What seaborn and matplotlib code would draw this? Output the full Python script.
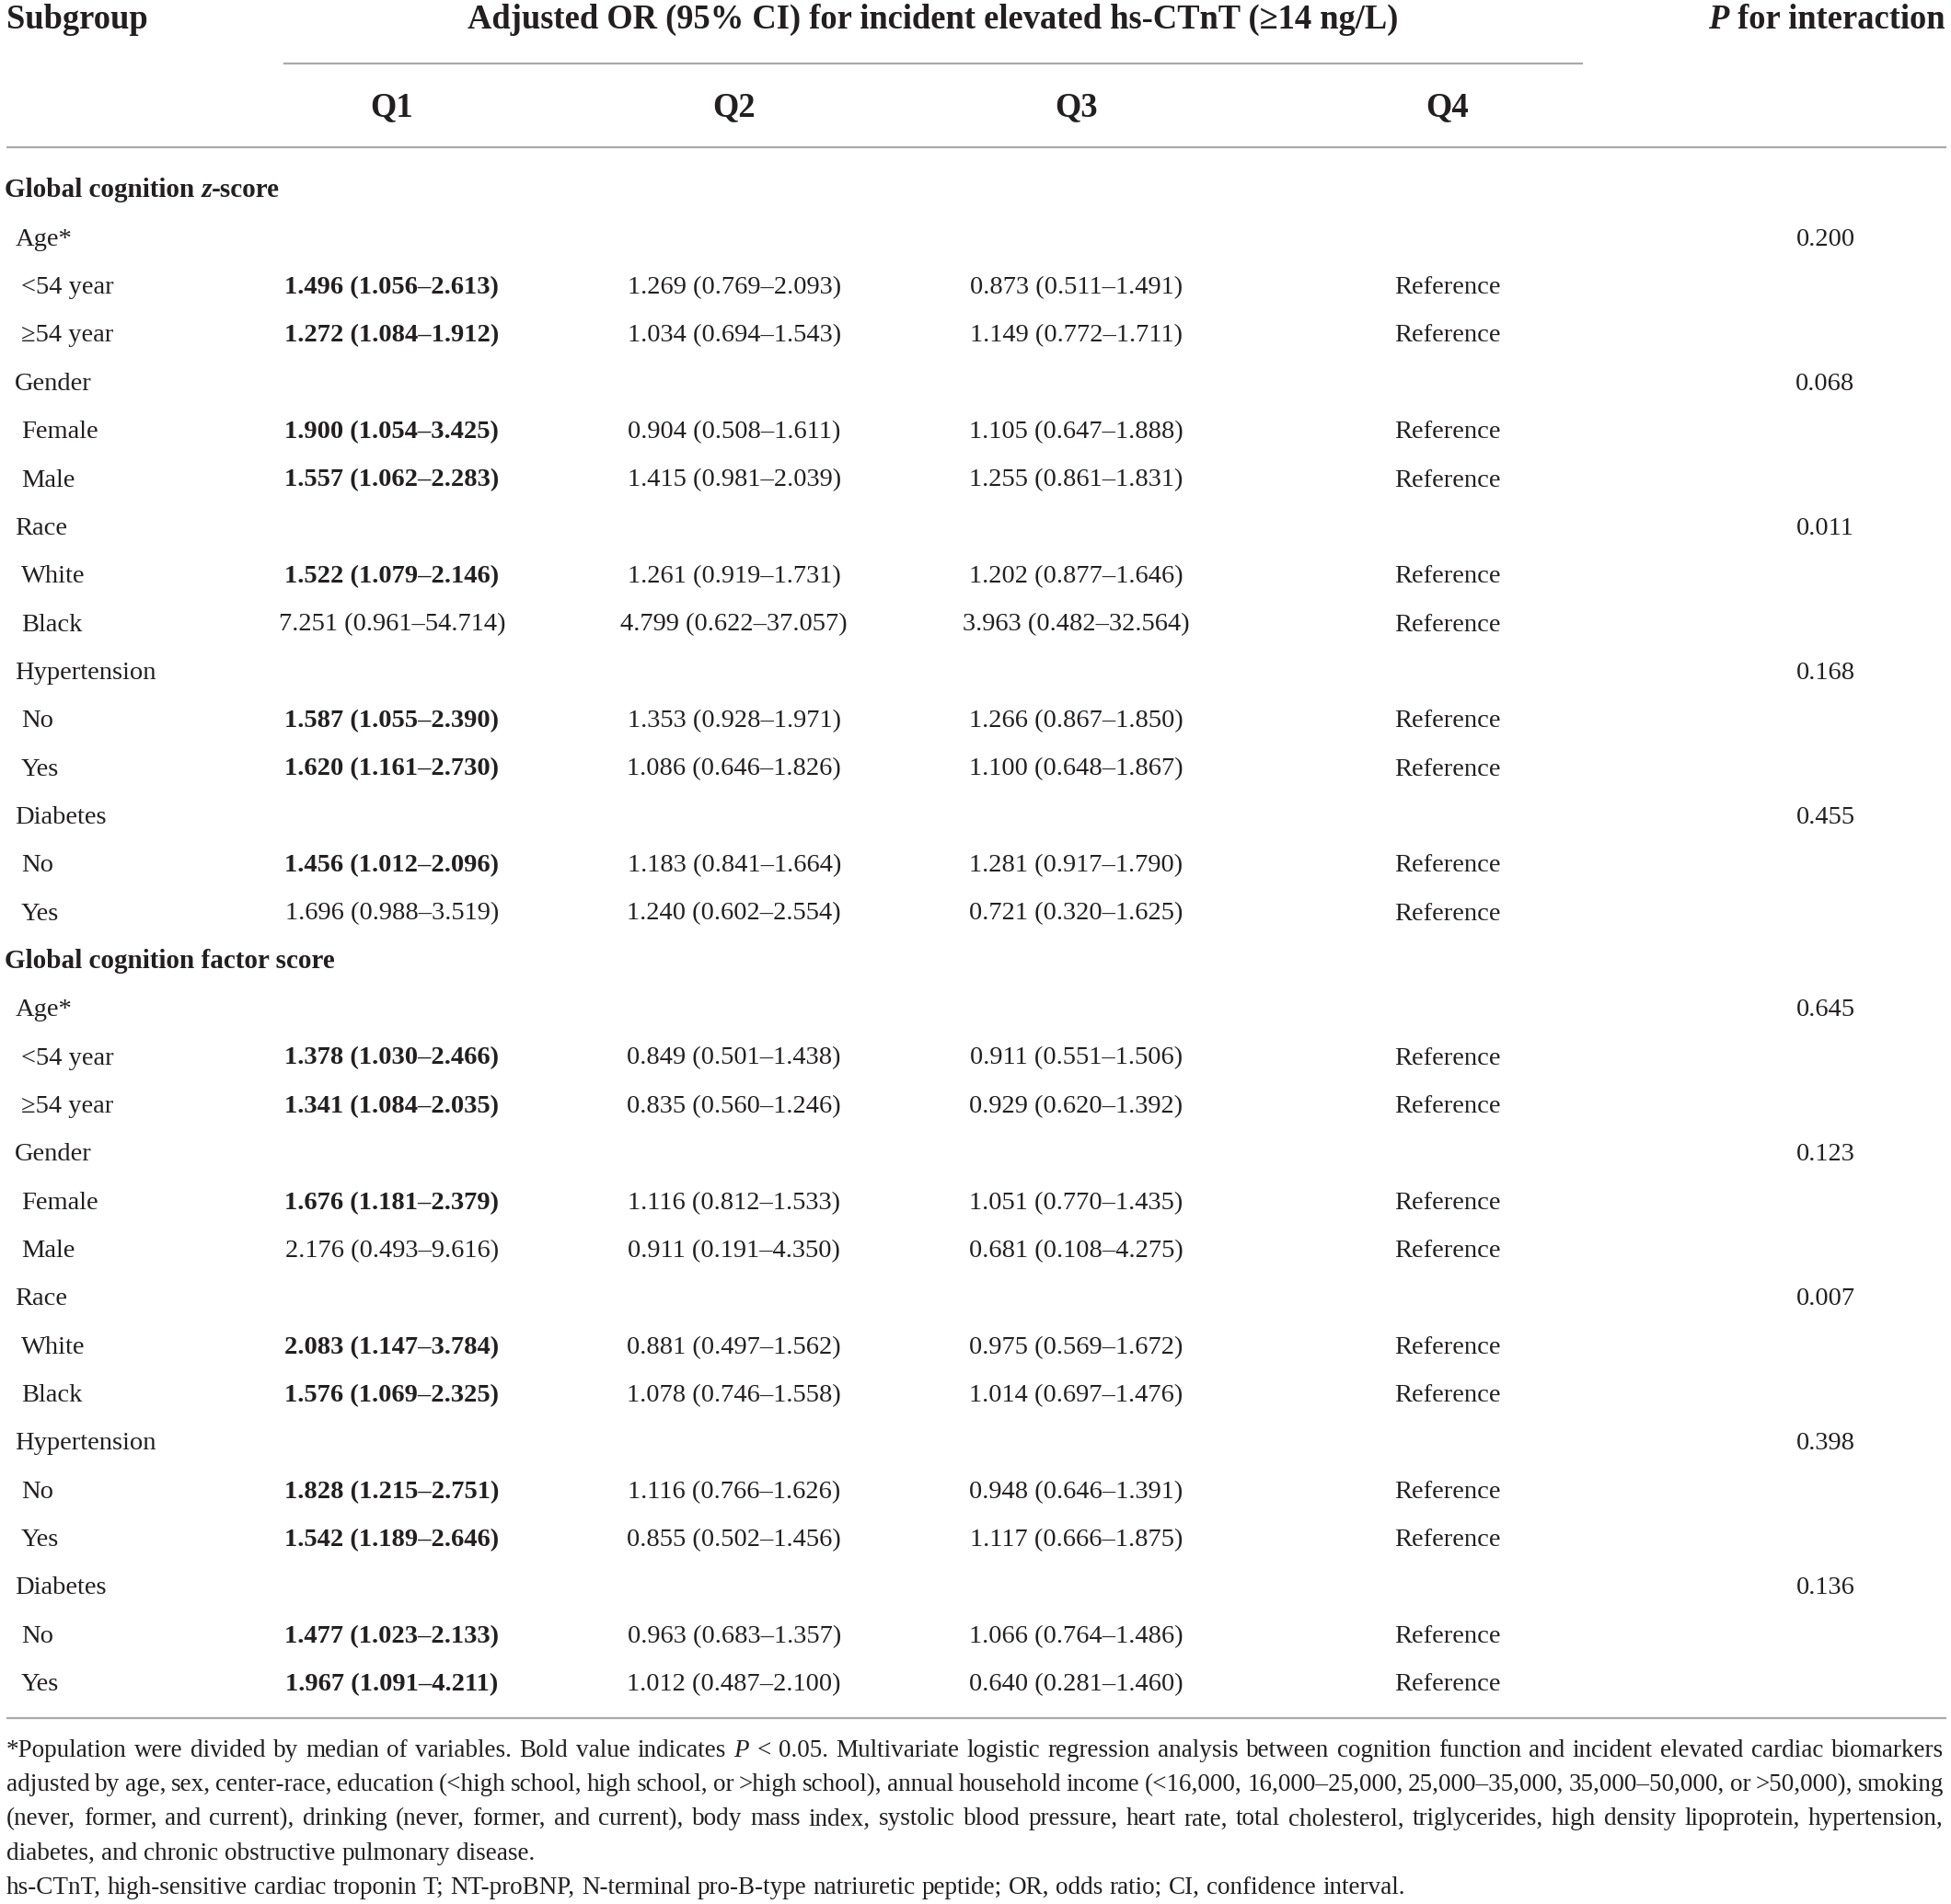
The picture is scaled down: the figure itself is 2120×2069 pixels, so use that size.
import matplotlib
matplotlib.use("Agg")
import matplotlib.pyplot as plt
import seaborn as sns

# ---- table contents ----
header_subgroup = "Subgroup"
header_main = "Adjusted OR (95% CI) for incident elevated hs-CTnT (≥14 ng/L)"
header_p = " for interaction"
quartiles = ["Q1", "Q2", "Q3", "Q4"]

section_titles = ["Global cognition z-score", "Global cognition factor score"]
groups = ["Age*", "Gender", "Race", "Hypertension", "Diabetes"]
levels = [["<54 year", "≥54 year"], ["Female", "Male"], ["White", "Black"],
          ["No", "Yes"], ["No", "Yes"]]

# Global cognition z-score
z_q1 = ["1.496 (1.056–2.613)", "1.272 (1.084–1.912)", "1.900 (1.054–3.425)", "1.557 (1.062–2.283)",
        "1.522 (1.079–2.146)", "7.251 (0.961–54.714)", "1.587 (1.055–2.390)", "1.620 (1.161–2.730)",
        "1.456 (1.012–2.096)", "1.696 (0.988–3.519)"]
z_q2 = ["1.269 (0.769–2.093)", "1.034 (0.694–1.543)", "0.904 (0.508–1.611)", "1.415 (0.981–2.039)",
        "1.261 (0.919–1.731)", "4.799 (0.622–37.057)", "1.353 (0.928–1.971)", "1.086 (0.646–1.826)",
        "1.183 (0.841–1.664)", "1.240 (0.602–2.554)"]
z_q3 = ["0.873 (0.511–1.491)", "1.149 (0.772–1.711)", "1.105 (0.647–1.888)", "1.255 (0.861–1.831)",
        "1.202 (0.877–1.646)", "3.963 (0.482–32.564)", "1.266 (0.867–1.850)", "1.100 (0.648–1.867)",
        "1.281 (0.917–1.790)", "0.721 (0.320–1.625)"]
z_q1_bold = [True, True, True, True, True, False, True, True, True, False]
z_p = ["0.200", "0.068", "0.011", "0.168", "0.455"]

# Global cognition factor score
f_q1 = ["1.378 (1.030–2.466)", "1.341 (1.084–2.035)", "1.676 (1.181–2.379)", "2.176 (0.493–9.616)",
        "2.083 (1.147–3.784)", "1.576 (1.069–2.325)", "1.828 (1.215–2.751)", "1.542 (1.189–2.646)",
        "1.477 (1.023–2.133)", "1.967 (1.091–4.211)"]
f_q2 = ["0.849 (0.501–1.438)", "0.835 (0.560–1.246)", "1.116 (0.812–1.533)", "0.911 (0.191–4.350)",
        "0.881 (0.497–1.562)", "1.078 (0.746–1.558)", "1.116 (0.766–1.626)", "0.855 (0.502–1.456)",
        "0.963 (0.683–1.357)", "1.012 (0.487–2.100)"]
f_q3 = ["0.911 (0.551–1.506)", "0.929 (0.620–1.392)", "1.051 (0.770–1.435)", "0.681 (0.108–4.275)",
        "0.975 (0.569–1.672)", "1.014 (0.697–1.476)", "0.948 (0.646–1.391)", "1.117 (0.666–1.875)",
        "1.066 (0.764–1.486)", "0.640 (0.281–1.460)"]
f_q1_bold = [True, True, True, False, True, True, True, True, True, True]
f_p = ["0.645", "0.123", "0.007", "0.398", "0.136"]

q4_value = "Reference"

footnote = [
    "*Population were divided by median of variables. Bold value indicates P < 0.05. Multivariate logistic "
    "regression analysis between cognition function and incident elevated cardiac biomarkers",
    "adjusted by age, sex, center-race, education (<high school, high school, or >high school), annual "
    "household income (<16,000, 16,000–25,000, 25,000–35,000, 35,000–50,000, or >50,000), smoking",
    "(never, former, and current), drinking (never, former, and current), body mass index, systolic blood "
    "pressure, heart rate, total cholesterol, triglycerides, high density lipoprotein, hypertension,",
    "diabetes, and chronic obstructive pulmonary disease.",
    "hs-CTnT, high-sensitive cardiac troponin T; NT-proBNP, N-terminal pro-B-type natriuretic peptide; "
    "OR, odds ratio; CI, confidence interval.",
]
footnote_justified = [True, True, True, False, False]

sections = [(z_q1, z_q2, z_q3, z_q1_bold, z_p), (f_q1, f_q2, f_q3, f_q1_bold, f_p)]

# ---- style ----
sns.set_theme(style="white")
plt.rcParams['font.family'] = ['Liberation Serif', 'DejaVu Serif']
INK = "#231f20"
RULE = "#a7a9ac"
BODY = 20.5
HEAD = 26.3
NOTE = 19.5

W, H = 2120, 2069
XMAX, YMAX = 1568, 1529  # layout units
fig = plt.figure(figsize=(W / 100, H / 100), dpi=100)
ax = fig.add_axes([0, 0, 1, 1])
ax.set_xlim(0, XMAX)
ax.set_ylim(YMAX, 0)
ax.axis('off')
sns.despine(ax=ax, left=True, bottom=True)
renderer = fig.canvas.get_renderer()
px2x = XMAX / W

col_x = [315, 590, 865, 1163]
p_x = 1467
row0 = 158.5
row_step = 38.68


def width_of(t):
    return t.get_window_extent(renderer).width * px2x


def put_runs(x, y, parts, size, ha='left'):
    """parts: list of (text, weight, style); drawn one after another"""
    objs = [ax.text(0, y, s, fontsize=size, fontweight=w, fontstyle=st,
                    ha='left', va='baseline', color=INK) for s, w, st in parts]
    widths = [width_of(o) for o in objs]
    total = sum(widths)
    x0 = {'left': x, 'right': x - total, 'center': x - total / 2}[ha]
    for o, w in zip(objs, widths):
        o.set_x(x0)
        x0 += w


def put_justified(y, line, x0, x1, size, full):
    words = line.split(' ')
    objs = [ax.text(0, y, w, fontsize=size, fontstyle='italic' if w == 'P' else 'normal',
                    ha='left', va='baseline', color=INK) for w in words]
    widths = [width_of(o) for o in objs]
    if full:
        gap = (x1 - x0 - sum(widths)) / (len(words) - 1)
    else:
        gap = 0.26 * size * (100 / 72) * px2x
    x = x0
    for o, w in zip(objs, widths):
        o.set_x(x)
        x += w + gap


# ---- header ----
ax.text(5, 23, header_subgroup, fontsize=HEAD, fontweight='bold', ha='left', va='baseline', color=INK)
ax.text(750, 23, header_main, fontsize=HEAD, fontweight='bold', ha='center', va='baseline', color=INK)
put_runs(1563, 23, [("P", 'bold', 'italic'), (header_p, 'bold', 'normal')], HEAD, ha='right')
for q, x in zip(quartiles, col_x):
    ax.text(x, 93, q, fontsize=HEAD, fontweight='bold', ha='center', va='baseline', color=INK)

ax.hlines(51, 228, 1272, color=RULE, lw=1.6)
ax.hlines(118, 5, 1564, color=RULE, lw=1.6)
ax.hlines(1380, 5, 1564, color=RULE, lw=1.6)

# ---- body ----
k = 0
for s, (q1, q2, q3, q1_bold, pvals) in enumerate(sections):
    y = row0 + row_step * k
    title = section_titles[s]
    if " z-" in title:
        a, b = title.split(" z-")
        put_runs(4, y, [(a, 'bold', 'normal'), (" z", 'bold', 'italic'), ("-" + b, 'bold', 'normal')], 21)
    else:
        ax.text(4, y, title, fontsize=21, fontweight='bold', ha='left', va='baseline', color=INK)
    k += 1
    i = 0
    for g, grp in enumerate(groups):
        y = row0 + row_step * k
        ax.text(12, y, grp, fontsize=BODY, ha='left', va='baseline', color=INK)
        ax.text(p_x, y, pvals[g], fontsize=BODY, ha='center', va='baseline', color=INK)
        k += 1
        for lev in levels[g]:
            y = row0 + row_step * k
            ax.text(17, y, lev, fontsize=BODY, ha='left', va='baseline', color=INK)
            ax.text(col_x[0], y, q1[i], fontsize=BODY, fontweight='bold' if q1_bold[i] else 'normal',
                    ha='center', va='baseline', color=INK)
            ax.text(col_x[1], y, q2[i], fontsize=BODY, ha='center', va='baseline', color=INK)
            ax.text(col_x[2], y, q3[i], fontsize=BODY, ha='center', va='baseline', color=INK)
            ax.text(col_x[3], y, q4_value, fontsize=BODY, ha='center', va='baseline', color=INK)
            k += 1
            i += 1

# ---- footnote ----
for j, (line, full) in enumerate(zip(footnote, footnote_justified)):
    put_justified(1411 + 27.4 * j, line, 5, 1562, NOTE, full)

fig.savefig("out.png", dpi=100)
